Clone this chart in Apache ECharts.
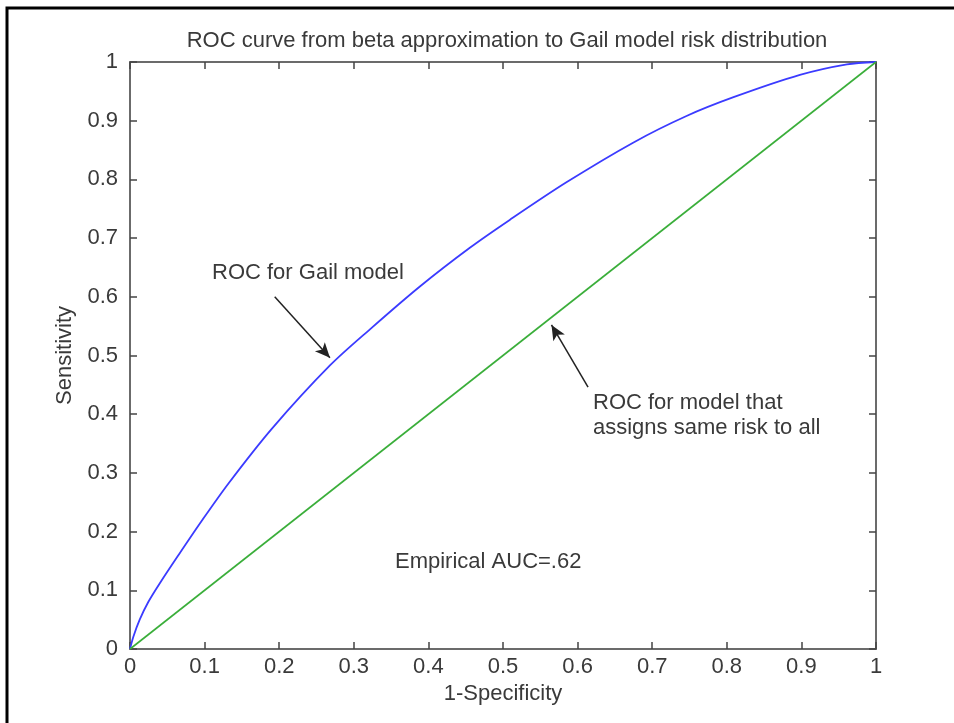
<!DOCTYPE html>
<html>
<head>
<meta charset="utf-8">
<script src="https://cdn.jsdelivr.net/npm/echarts@6/dist/echarts.min.js"></script>
<style>
  html, body { margin: 0; padding: 0; background: #fff; }
  #main { width: 954px; height: 723px; }
</style>
</head>
<body>
<div id="main"></div>
<script>
// ROC for Gail model
var gailX = [0, 0.0045, 0.013, 0.0245, 0.04, 0.065, 0.096, 0.132, 0.19, 0.268, 0.322, 0.389, 0.456, 0.509, 0.585, 0.675, 0.746, 0.809, 0.898, 0.961, 1];
var gailY = [0, 0.021, 0.050, 0.080, 0.112, 0.160, 0.218, 0.282, 0.375, 0.483, 0.545, 0.618, 0.684, 0.731, 0.795, 0.863, 0.908, 0.940, 0.978, 0.996, 1];
// same-risk model: the chance diagonal
var chanceX = [0, 1];
var chanceY = [0, 1];
// arrows: [tail, tip] in data units
var gailArrow = [[0.194, 0.600], [0.268, 0.496]];
var chanceArrow = [[0.614, 0.446], [0.565, 0.552]];

var font = '"Liberation Sans", Arial, sans-serif';
var fs = 22;
var axisGray = '#6b6b6b';
var textCol = '#3a3a3a';

function pairs(xs, ys) {
    return xs.map(function (x, i) { return [x, ys[i]]; });
}

var myChart = echarts.init(document.getElementById('main'));

function valAxis(pos, show) {
    return {
        type: 'value',
        position: pos,
        min: 0, max: 1, interval: 0.1,
        axisLine: { show: true, onZero: false, lineStyle: { color: axisGray, width: 2 } },
        axisTick: { show: true, inside: true, length: 7, lineStyle: { color: '#444', width: 1.5 } },
        axisLabel: { show: show, color: textCol, fontSize: fs, fontFamily: font, margin: 7 },
        splitLine: { show: false }
    };
}

var xMain = valAxis('bottom', true);
xMain.name = '1-Specificity';
xMain.nameLocation = 'middle';
xMain.nameGap = 32;
xMain.nameTextStyle = { color: textCol, fontSize: fs, fontFamily: font };
var yMain = valAxis('left', true);
yMain.name = 'Sensitivity';
yMain.nameLocation = 'middle';
yMain.nameGap = 54;
yMain.nameTextStyle = { color: textCol, fontSize: fs, fontFamily: font };
yMain.axisLabel.margin = 12;

function arrowLine(seg) {
    return [{ coord: seg[0], symbol: 'none' }, { coord: seg[1], symbol: 'arrow' }];
}

var option = {
    animation: false,
    backgroundColor: '#fff',
    title: {
        text: 'ROC curve from beta approximation to Gail model risk distribution',
        left: 502, top: 25, textAlign: 'center',
        textStyle: { color: textCol, fontSize: fs, fontWeight: 'normal', fontFamily: font }
    },
    grid: { left: 130, right: 78, top: 62, bottom: 74 },
    xAxis: [xMain, valAxis('top', false)],
    yAxis: [yMain, valAxis('right', false)],
    series: [
        {
            type: 'line',
            data: pairs(gailX, gailY),
            smooth: 0.3,
            showSymbol: false,
            lineStyle: { color: '#3b3bff', width: 1.8 },
            markLine: {
                silent: true,
                symbolSize: [10, 15],
                lineStyle: { color: '#222', width: 1.5, type: 'solid' },
                label: { show: false },
                data: [arrowLine(gailArrow), arrowLine(chanceArrow)]
            }
        },
        {
            type: 'line',
            data: pairs(chanceX, chanceY),
            showSymbol: false,
            lineStyle: { color: '#3aae3a', width: 1.6 }
        }
    ],
    graphic: [
        { type: 'rect', shape: { x: 7, y: 8, width: 1200, height: 1200 }, style: { fill: 'none', stroke: '#000', lineWidth: 3 }, silent: true },
        { type: 'text', left: 212, top: 262, style: { text: 'ROC for Gail model', fill: textCol, fontSize: fs, fontFamily: font } },
        { type: 'text', left: 593, top: 390, style: { text: 'ROC for model that\nassigns same risk to all', fill: textCol, fontSize: fs, fontFamily: font, lineHeight: 25 } },
        { type: 'text', left: 395, top: 551, style: { text: 'Empirical AUC=.62', fill: textCol, fontSize: fs, fontFamily: font } }
    ]
};

option && myChart.setOption(option);
</script>
</body>
</html>
